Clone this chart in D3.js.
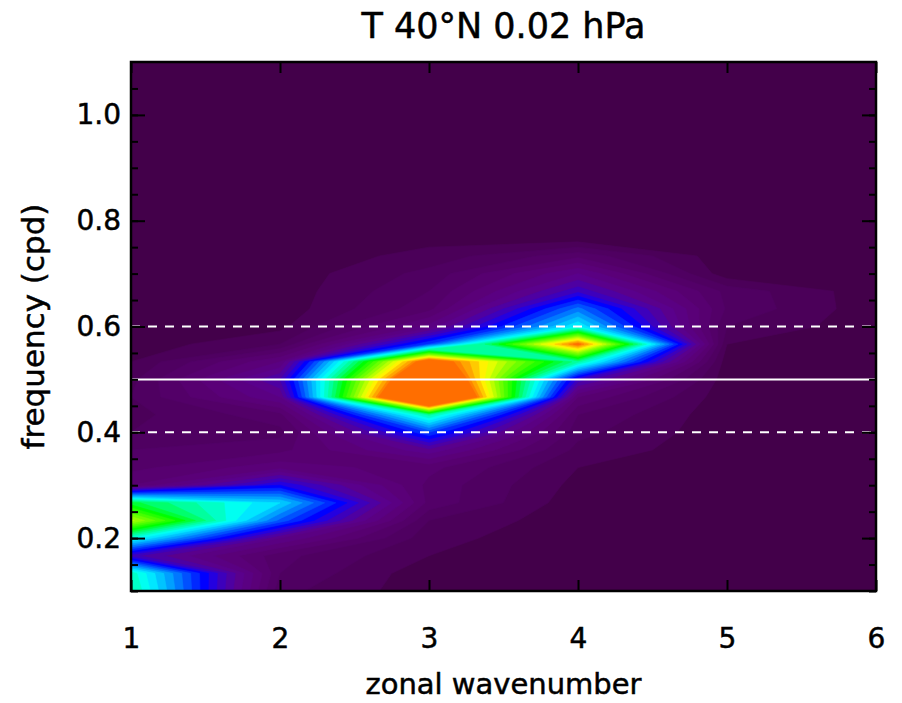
<!DOCTYPE html>
<html>
<head>
<meta charset="utf-8">
<script src="https://cdn.jsdelivr.net/npm/d3@7"></script>
<style>
  body { margin: 0; background: #fff; }
  text { font-family: "DejaVu Sans", "Liberation Sans", sans-serif; fill: #000; stroke: #000; stroke-width: 0.5px; }
</style>
</head>
<body>
<svg id="chart" width="902" height="703"></svg>
<script>
// zonal wavenumber columns, frequency rows (cpd), grid step 1/30 cpd from 0.1 to 1.1
var wavenumbers = [1, 2, 3, 4, 5, 6];
var freqs = d3.range(3, 34).map(function(n) { return n / 30; });

// normalised spectral power, one array per wavenumber, bottom (0.1 cpd) to top (1.1 cpd)
var power_k1 = [0.60, 0.58, 0.27, 0.55, 0.84, 0.66, 0.14, 0.10, 0.08, 0.05, 0.04, 0.05, 0.04, 0.02, 0, 0,
                0, 0, 0, 0, 0, 0, 0, 0, 0, 0, 0, 0, 0, 0, 0];
var power_k2 = [0.06, 0.08, 0.09, 0.20, 0.40, 0.50, 0.32, 0.16, 0.10, 0.07, 0.10, 0.20, 0.26, 0.17, 0.05, 0.01,
                0, 0, 0, 0, 0, 0, 0, 0, 0, 0, 0, 0, 0, 0, 0];
var power_k3 = [0, 0, 0.02, 0.03, 0.05, 0.10, 0.10, 0.12, 0.22, 0.38, 0.60, 1.41, 1.25, 1.08, 0.38, 0.18,
                0.10, 0.08, 0.06, 0.03, 0.01, 0, 0, 0, 0, 0, 0, 0, 0, 0, 0];
var power_k4 = [0, 0, 0, 0, 0, 0, 0.01, 0.02, 0.04, 0.06, 0.08, 0.14, 0.28, 0.60, 1.02, 0.53,
                0.42, 0.28, 0.20, 0.10, 0, 0, 0, 0, 0, 0, 0, 0, 0, 0, 0];
var power_k5 = [0, 0, 0, 0, 0, 0, 0, 0, 0, 0, 0, 0, 0, 0, 0.02, 0.05,
                0.075, 0.07, 0, 0, 0, 0, 0, 0, 0, 0, 0, 0, 0, 0, 0];
var power_k6 = [0, 0, 0, 0, 0, 0, 0, 0, 0, 0, 0, 0, 0, 0, 0, 0,
                0, 0, 0, 0, 0, 0, 0, 0, 0, 0, 0, 0, 0, 0, 0];

var xTicks = [1, 2, 3, 4, 5, 6];
var yTicks = [0.2, 0.4, 0.6, 0.8, 1.0];
var yMinorTicks = d3.range(2, 22).map(function(n) { return n * 0.05; });
var refLines = [0.4, 0.5, 0.6];

var columns = [power_k1, power_k2, power_k3, power_k4, power_k5, power_k6];

var margin = { left: 131, right: 26, top: 62, bottom: 112 };
var width = 902 - margin.left - margin.right;
var height = 703 - margin.top - margin.bottom;

var svg = d3.select("#chart");
var g = svg.append("g").attr("transform", "translate(" + margin.left + "," + margin.top + ")");

var x = d3.scaleLinear().domain([1, 6]).range([0, width]);
var y = d3.scaleLinear().domain([0.1, 1.1]).range([height, 0]);

// rainbow colour table, dark purple background up to orange
var color = d3.scaleLinear()
    .domain([0, 0.02, 0.08, 0.14, 0.20, 0.25, 0.29, 0.32, 0.38, 0.44, 0.52, 0.60, 0.68, 0.80, 0.88, 0.94, 1.0])
    .range(["#43004a", "#4b0059", "#530068", "#5a0078", "#5a008c", "#4600b0", "#2400e0", "#0000ff",
             "#0050ff", "#00a0ff", "#00ffff", "#00ff90", "#00ff00", "#90ff00", "#ffff00", "#ffb000", "#ff6e00"])
    .clamp(true);

var levels = d3.range(0.02, 0.99, 0.03).concat([1.0]);

// grid: row j = frequency, column i = wavenumber
var n = wavenumbers.length, m = freqs.length;
var values = [];
for (var j = 0; j < m; j++) {
    for (var i = 0; i < n; i++) values.push(columns[i][j]);
}

var contours = d3.contours().size([n, m]).thresholds(levels)(values);

var proj = d3.geoTransform({
    point: function(px, py) {
        var k = wavenumbers[0] + (px - 0.5);
        var f = freqs[0] + (py - 0.5) * (freqs[1] - freqs[0]);
        this.stream.point(x(k), y(f));
    }
});
var path = d3.geoPath(proj);

svg.append("defs").append("clipPath").attr("id", "plotclip")
  .append("rect").attr("width", width).attr("height", height);

var plot = g.append("g").attr("clip-path", "url(#plotclip)");
plot.append("rect").attr("width", width).attr("height", height).attr("fill", color(0));

plot.selectAll("path.band")
    .data(contours)
    .enter().append("path")
    .attr("class", "band")
    .attr("d", path)
    .attr("fill", function(d) { return color(d.value); })
    .attr("stroke", function(d) { return color(d.value); })
    .attr("stroke-width", 0.6);

plot.selectAll("line.ref")
    .data(refLines)
    .enter().append("line")
    .attr("class", "ref")
    .attr("x1", 0).attr("x2", width)
    .attr("y1", function(d) { return y(d); })
    .attr("y2", function(d) { return y(d); })
    .attr("stroke", "#fff")
    .attr("stroke-width", 2)
    .attr("stroke-dasharray", function(d) { return d === 0.5 ? null : "9,8"; });

// axes, ticks pointing inward on all four sides
g.append("g").attr("transform", "translate(0," + height + ")")
    .call(d3.axisBottom(x).tickValues(xTicks).tickSize(-11).tickPadding(37).tickFormat(d3.format("d")))
    .call(function(a) { a.select(".domain").remove(); });
g.append("g")
    .call(d3.axisTop(x).tickValues(xTicks).tickSize(-11).tickFormat(""))
    .call(function(a) { a.select(".domain").remove(); });

g.append("g")
    .call(d3.axisLeft(y).tickValues(yMinorTicks).tickSize(-7).tickFormat(""))
    .call(function(a) { a.select(".domain").remove(); });
g.append("g")
    .call(d3.axisLeft(y).tickValues(yTicks).tickSize(-14).tickPadding(10).tickFormat(d3.format(".1f")))
    .call(function(a) { a.select(".domain").remove(); });
g.append("g").attr("transform", "translate(" + width + ",0)")
    .call(d3.axisRight(y).tickValues(yMinorTicks).tickSize(-7).tickFormat(""))
    .call(function(a) { a.select(".domain").remove(); });
g.append("g").attr("transform", "translate(" + width + ",0)")
    .call(d3.axisRight(y).tickValues(yTicks).tickSize(-14).tickFormat(""))
    .call(function(a) { a.select(".domain").remove(); });

g.selectAll(".tick line").attr("stroke", "#000").attr("stroke-width", 2);
g.selectAll(".tick text").attr("font-size", 28).attr("font-family", "'DejaVu Sans', sans-serif");

g.append("rect").attr("width", width).attr("height", height)
    .attr("fill", "none").attr("stroke", "#000").attr("stroke-width", 2.5);

svg.append("text")
    .attr("x", margin.left + width / 2).attr("y", 38)
    .attr("text-anchor", "middle").attr("font-size", 35)
    .text("T 40\u00b0N 0.02 hPa");

svg.append("text")
    .attr("x", margin.left + width / 2).attr("y", 694)
    .attr("text-anchor", "middle").attr("font-size", 29)
    .text("zonal wavenumber");

svg.append("text")
    .attr("transform", "translate(44," + (margin.top + height / 2) + ") rotate(-90)")
    .attr("text-anchor", "middle").attr("font-size", 31)
    .text("frequency (cpd)");
</script>
</body>
</html>
